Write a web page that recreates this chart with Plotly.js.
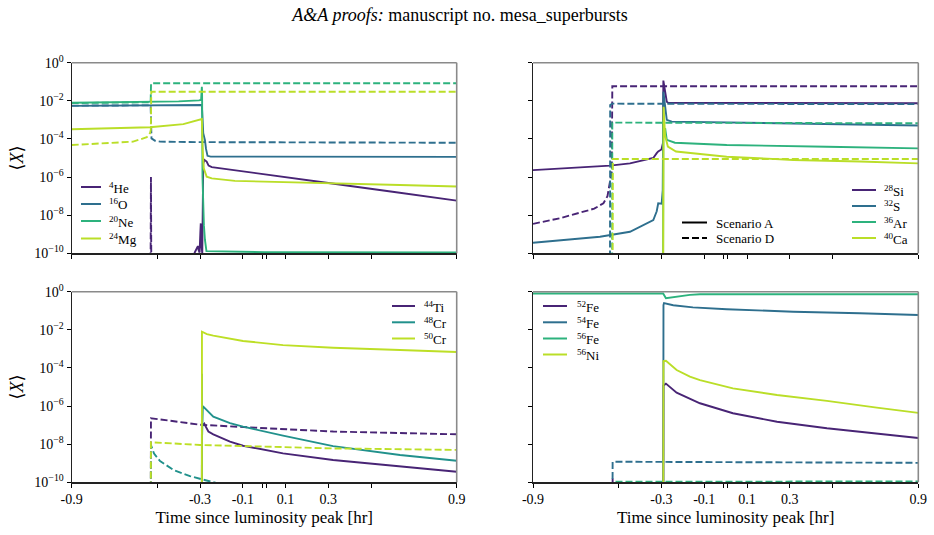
<!DOCTYPE html>
<html>
<head>
<meta charset="utf-8">
<script src="https://cdn.plot.ly/plotly-3.0.1.min.js"></script>
<style>
  html, body { margin: 0; padding: 0; background: #fff; }
  #chart { width: 934px; height: 535px; }
</style>
</head>
<body>
<div id="chart"></div>
<script>
// ---------------------------------------------------------------
// Mean mass fractions <X> versus time since the luminosity peak.
// Suffix _A = Scenario A (solid), _D = Scenario D (dashed).
// Values at 1e-13 lie below the plotted range (effectively zero).
// ---------------------------------------------------------------

// shared axis ticks
const timeTicks = [-0.9, -0.3, -0.1, 0.1, 0.3, 0.9];
const timeTickText = ['-0.9', '-0.3', '-0.1', '0.1', '0.3', '0.9'];
const timeMinorTicks = [-0.5, -0.01, 0.01, 0.5];
const xTicks = [1e-10, 1e-8, 1e-6, 1e-4, 1e-2, 1];
const xTickText = ['10<sup>−10</sup>', '10<sup>−8</sup>', '10<sup>−6</sup>', '10<sup>−4</sup>', '10<sup>−2</sup>', '10<sup>0</sup>'];

// ---- panel 1: light elements ----
const lightLabels = ['<sup>4</sup>He', '<sup>16</sup>O', '<sup>20</sup>Ne', '<sup>24</sup>Mg'];

const he4_A_t = [-0.9, -0.34, -0.325, -0.316, -0.31, -0.306, -0.302, -0.2985, -0.2965, -0.2945, -0.292, -0.2895, -0.285, -0.28, -0.269, -0.26, -0.245, -0.137, 0, 0.3, 0.6, 0.9];
const he4_A_X = [1e-13, 1e-12, 1.1e-10, 1.6e-10, 2.4e-10, 1.4e-10, 1.1e-10, 1.2e-9, 3.7e-9, 4e-10, 1.2e-10, 1e-10, 5e-6, 8e-6, 6.5e-6, 4e-6, 3.3e-6, 2.3e-6, 1.45e-6, 4.9e-7, 1.7e-7, 5.8e-8];
const he4_D_t = [-0.9, -0.532, -0.5295, -0.527, 0.9];
const he4_D_X = [1e-13, 1e-13, 1e-6, 1e-13, 1e-13];

const o16_A_t = [-0.9, -0.6, -0.3, -0.2915, -0.285, -0.277, -0.272, -0.265, -0.25, 0.9];
const o16_A_X = [5.4e-3, 5.6e-3, 6.0e-3, 6.0e-3, 2e-4, 8.7e-5, 3e-5, 1.3e-5, 1.18e-5, 1.15e-5];
const o16_D_t = [-0.9, -0.6, -0.531, -0.527, -0.51, -0.487, -0.3, 0.9];
const o16_D_X = [5.6e-3, 5.7e-3, 5.8e-3, 1.07e-4, 8e-5, 7.2e-5, 6.8e-5, 6.3e-5];

const ne20_A_t = [-0.9, -0.6, -0.4, -0.305, -0.295, -0.2915, -0.2905, -0.2885, -0.286, -0.282, -0.277, -0.27, 0, 0.9];
const ne20_A_X = [7.9e-3, 8.5e-3, 9.3e-3, 1.05e-2, 1.1e-2, 0.055, 0.03, 1e-6, 1e-8, 3e-9, 5e-10, 1.3e-10, 1.15e-10, 1.1e-10];
const ne20_D_t = [-0.9, -0.6, -0.531, -0.529, 0.9];
const ne20_D_X = [7.6e-3, 8.0e-3, 8.4e-3, 0.083, 0.083];

const mg24_A_t = [-0.9, -0.534, -0.378, -0.331, -0.3, -0.2915, -0.288, -0.283, -0.269, -0.245, -0.137, 0.167, 0.635, 0.9];
const mg24_A_X = [3.2e-4, 4.1e-4, 6.0e-4, 8.1e-4, 1.0e-3, 1.1e-3, 3e-5, 3e-6, 1.05e-6, 8.5e-7, 6.3e-7, 5e-7, 3.8e-7, 3.2e-7];
const mg24_D_t = [-0.9, -0.613, -0.549, -0.534, -0.530, -0.528, 0.9];
const mg24_D_X = [4.8e-5, 7.2e-5, 1.23e-4, 2.0e-4, 3e-4, 0.030, 0.030];

// ---- panel 2: intermediate-mass elements ----
const imeLabels = ['<sup>28</sup>Si', '<sup>32</sup>S', '<sup>36</sup>Ar', '<sup>40</sup>Ca'];

const si28_A_t = [-0.9, -0.54, -0.447, -0.338, -0.322, -0.315, -0.3, -0.293, -0.291, -0.286, -0.275, -0.268, 0.9];
const si28_A_X = [2.3e-6, 4e-6, 5.2e-6, 1.0e-5, 1.8e-5, 2.2e-5, 2.8e-5, 6e-5, 0.115, 0.05, 9e-3, 7.8e-3, 7.4e-3];
const si28_D_t = [-0.9, -0.774, -0.614, -0.571, -0.552, -0.540, -0.532, -0.5295, 0.9];
const si28_D_X = [3.5e-9, 6.9e-9, 2.2e-8, 4.2e-8, 1e-7, 4.7e-7, 2e-6, 0.058, 0.058];

const s32_A_t = [-0.9, -0.587, -0.447, -0.338, -0.322, -0.315, -0.299, -0.294, -0.291, -0.286, -0.275, -0.252, 0.005, 0.9];
const s32_A_X = [3.6e-10, 7.4e-10, 1.35e-9, 5.6e-9, 1.6e-8, 4.2e-8, 4e-8, 2e-7, 0.03, 0.01, 1e-3, 8.1e-4, 7.3e-4, 5.1e-4];
const s32_D_t = [-0.9, -0.5405, -0.5395, -0.5295, 0.9];
const s32_D_X = [1e-13, 1e-13, 6e-3, 7.1e-3, 6.7e-3];

const ar36_A_t = [-0.9, -0.2925, -0.291, -0.287, -0.282, -0.275, -0.237, 0.005, 0.473, 0.9];
const ar36_A_X = [1e-13, 1e-13, 1e-3, 3e-4, 3.2e-4, 9e-5, 6.3e-5, 4.8e-5, 3.9e-5, 3.2e-5];
const ar36_D_t = [-0.9, -0.5305, -0.5295, 0.9];
const ar36_D_X = [1e-13, 1e-13, 7.2e-4, 6.6e-4];

const ca40_A_t = [-0.9, -0.2925, -0.290, -0.283, -0.27, -0.232, 0.005, 0.316, 0.627, 0.9];
const ca40_A_X = [1e-13, 1e-13, 4.9e-3, 1.5e-4, 4e-5, 2.2e-5, 1.17e-5, 7.9e-6, 6.5e-6, 5.2e-6];
const ca40_D_t = [-0.9, -0.5285, -0.527, 0.9];
const ca40_D_X = [1e-13, 1e-13, 8.9e-6, 8.9e-6];

// ---- panel 3: Ti and Cr ----
const tiCrLabels = ['<sup>44</sup>Ti', '<sup>48</sup>Cr', '<sup>50</sup>Cr'];

const ti44_A_t = [-0.9, -0.2915, -0.291, -0.284, -0.280, -0.277, -0.261, -0.238, -0.160, -0.099, 0.088, 0.322, 0.635, 0.9];
const ti44_A_X = [1e-13, 1e-13, 9e-8, 1.1e-7, 1.2e-7, 1e-7, 4.6e-8, 3.3e-8, 1.35e-8, 8.3e-9, 3.3e-9, 1.48e-9, 6.6e-10, 3.6e-10];
const ti44_D_t = [-0.9, -0.5305, -0.5295, -0.3, 0.012, 0.323, 0.9];
const ti44_D_X = [1e-13, 1e-13, 2.3e-7, 1.05e-7, 6.8e-8, 4.6e-8, 3.3e-8];

const cr48_A_t = [-0.9, -0.2915, -0.291, -0.2903, -0.287, -0.238, -0.160, -0.099, 0.088, 0.322, 0.635, 0.9];
const cr48_A_X = [1e-13, 1e-13, 5e-5, 3e-8, 1e-6, 2.75e-7, 1.26e-7, 8.3e-8, 2.8e-8, 7.9e-9, 2.7e-9, 1.35e-9];
const cr48_D_t = [-0.9, -0.5305, -0.5295, -0.515, -0.487, -0.425, -0.347, -0.3, -0.222, -0.1, 0.9];
const cr48_D_X = [1e-13, 1e-13, 9e-9, 3.2e-9, 1.3e-9, 4.5e-10, 2.1e-10, 1.5e-10, 9e-11, 4e-11, 1e-12];

const cr50_A_t = [-0.9, -0.2915, -0.291, -0.268, -0.238, -0.16, -0.099, 0.088, 0.322, 0.635, 0.9];
const cr50_A_X = [1e-13, 1e-13, 8e-3, 6.0e-3, 5.0e-3, 3.3e-3, 2.6e-3, 1.58e-3, 1.15e-3, 8.7e-4, 6.9e-4];
const cr50_D_t = [-0.9, -0.5305, -0.5295, -0.3, 0.323, 0.9];
const cr50_D_X = [1e-13, 1e-13, 1.26e-8, 9.1e-9, 6e-9, 5e-9];

// ---- panel 4: iron group ----
const ironLabels = ['<sup>52</sup>Fe', '<sup>54</sup>Fe', '<sup>56</sup>Fe', '<sup>56</sup>Ni'];

const fe52_A_t = [-0.9, -0.2915, -0.2905, -0.281, -0.279, -0.229, -0.12, 0.034, 0.24, 0.473, 0.706, 0.9];
const fe52_A_X = [1e-13, 1e-13, 1.2e-5, 1.5e-5, 1.5e-5, 5e-6, 1.4e-6, 4.2e-7, 1.5e-7, 6.8e-8, 3.5e-8, 2.1e-8];
const fe52_D_t = [-0.9, -0.5295, -0.528, -0.5265, 0.9];
const fe52_D_X = [1e-13, 1e-13, 1.6e-10, 1e-13, 1e-13];

const fe54_A_t = [-0.9, -0.2915, -0.2905, -0.288, -0.245, -0.153, 0.005, 0.316, 0.627, 0.9];
const fe54_A_X = [1e-13, 1e-13, 0.2, 0.25, 0.195, 0.15, 0.12, 0.089, 0.074, 0.06];
const fe54_D_t = [-0.9, -0.529, -0.528, 0.9];
const fe54_D_X = [1e-13, 1e-13, 1.2e-9, 1.05e-9];

const fe56_A_t = [-0.9, -0.292, -0.279, -0.229, -0.167, -0.12, 0.3, 0.9];
const fe56_A_X = [0.81, 0.81, 0.45, 0.55, 0.68, 0.74, 0.75, 0.73];
const fe56_D_t = [-0.9, -0.5285, -0.527, 0.9];
const fe56_D_X = [1e-13, 1e-13, 1.08e-10, 1.1e-10];

const ni56_A_t = [-0.9, -0.2915, -0.2905, -0.279, -0.229, -0.167, -0.12, 0.034, 0.24, 0.473, 0.706, 0.9];
const ni56_A_X = [1e-13, 1e-13, 2.3e-4, 2.4e-4, 7.8e-5, 3.5e-5, 2.3e-5, 8.5e-6, 3.8e-6, 1.86e-6, 8.3e-7, 4.4e-7];

const scenarioLabels = ['Scenario A', 'Scenario D'];

// ---------------------------------------------------------------
// styling
// ---------------------------------------------------------------
const SERIF = 'Liberation Serif, DejaVu Serif, serif';
const W = 934, H = 535;
const viridis4 = ['#482475', '#2e6f8e', '#2db27d', '#bade28'];
const viridis3 = ['#482475', '#21918c', '#bddf26'];
const DASH = '7px,3px';
const LW = 1.9;

// panel boxes in pixels: [left, right, top, bottom]
const boxes = {
  1: [71.7, 456.7, 62.7, 253.3],
  2: [533.0, 918.3, 62.7, 253.3],
  3: [71.7, 456.7, 291.7, 482.3],
  4: [533.0, 918.3, 291.7, 482.3]
};
const px = v => v / W;
const py = v => 1 - v / H;

const traces = [];
function addSeries(panel, t, X, color, dashed) {
  const sfx = panel === 1 ? '' : String(panel);
  traces.push({
    type: 'scatter', mode: 'lines',
    x: t, y: X,
    xaxis: 'x' + sfx, yaxis: 'y' + sfx,
    line: { color: color, width: LW, dash: dashed ? DASH : 'solid' },
    showlegend: false, hoverinfo: 'x+y'
  });
}

// panel 1
addSeries(1, he4_A_t, he4_A_X, viridis4[0], false);
addSeries(1, he4_D_t, he4_D_X, viridis4[0], true);
addSeries(1, o16_A_t, o16_A_X, viridis4[1], false);
addSeries(1, o16_D_t, o16_D_X, viridis4[1], true);
addSeries(1, ne20_A_t, ne20_A_X, viridis4[2], false);
addSeries(1, ne20_D_t, ne20_D_X, viridis4[2], true);
addSeries(1, mg24_A_t, mg24_A_X, viridis4[3], false);
addSeries(1, mg24_D_t, mg24_D_X, viridis4[3], true);
// panel 2
addSeries(2, si28_A_t, si28_A_X, viridis4[0], false);
addSeries(2, si28_D_t, si28_D_X, viridis4[0], true);
addSeries(2, s32_A_t, s32_A_X, viridis4[1], false);
addSeries(2, s32_D_t, s32_D_X, viridis4[1], true);
addSeries(2, ar36_A_t, ar36_A_X, viridis4[2], false);
addSeries(2, ar36_D_t, ar36_D_X, viridis4[2], true);
addSeries(2, ca40_A_t, ca40_A_X, viridis4[3], false);
addSeries(2, ca40_D_t, ca40_D_X, viridis4[3], true);
// panel 3
addSeries(3, ti44_A_t, ti44_A_X, viridis3[0], false);
addSeries(3, ti44_D_t, ti44_D_X, viridis3[0], true);
addSeries(3, cr48_A_t, cr48_A_X, viridis3[1], false);
addSeries(3, cr48_D_t, cr48_D_X, viridis3[1], true);
addSeries(3, cr50_A_t, cr50_A_X, viridis3[2], false);
addSeries(3, cr50_D_t, cr50_D_X, viridis3[2], true);
// panel 4
addSeries(4, fe52_A_t, fe52_A_X, viridis4[0], false);
addSeries(4, fe52_D_t, fe52_D_X, viridis4[0], true);
addSeries(4, fe54_A_t, fe54_A_X, viridis4[1], false);
addSeries(4, fe54_D_t, fe54_D_X, viridis4[1], true);
addSeries(4, fe56_A_t, fe56_A_X, viridis4[2], false);
addSeries(4, fe56_D_t, fe56_D_X, viridis4[2], true);
addSeries(4, ni56_A_t, ni56_A_X, viridis4[3], false);

// axes
const tickFont = { family: SERIF, size: 14, color: '#000' };
function timeAxis(panel, showLabels) {
  const b = boxes[panel];
  const ax = {
    domain: [px(b[0]), px(b[1])],
    anchor: panel === 1 ? 'y' : 'y' + panel,
    range: [-0.9, 0.9], fixedrange: true,
    tickmode: 'array', tickvals: timeTicks, ticktext: timeTickText,
    minor: { tickmode: 'array', tickvals: timeMinorTicks, ticks: 'outside', ticklen: 4, tickwidth: 1, tickcolor: '#000', showgrid: false },
    showticklabels: showLabels,
    ticks: 'outside', ticklen: 4, tickwidth: 1, tickcolor: '#000',
    showline: true, linecolor: '#222', linewidth: 1.2,
    showgrid: false, zeroline: false,
    tickfont: tickFont, automargin: false
  };
  if (showLabels) {
    ax.title = { text: 'Time since luminosity peak [hr]', font: { family: SERIF, size: 17, color: '#000' }, standoff: 4 };
  }
  return ax;
}
function abundanceAxis(panel, showLabels) {
  const b = boxes[panel];
  const ax = {
    domain: [py(b[3]), py(b[2])],
    anchor: panel === 1 ? 'x' : 'x' + panel,
    type: 'log', range: [-10, 0], fixedrange: true,
    tickmode: 'array', tickvals: xTicks, ticktext: xTickText,
    showticklabels: showLabels,
    ticks: 'outside', ticklen: 4, tickwidth: 1, tickcolor: '#000',
    showline: true, linecolor: '#222', linewidth: 1.2,
    showgrid: false, zeroline: false,
    tickfont: tickFont, automargin: false
  };
  if (showLabels) {
    ax.title = { text: '⟨<i>X</i>⟩', font: { family: SERIF, size: 18, color: '#000' }, standoff: 6 };
  }
  return ax;
}

// top/right frame edges drawn in grey
const shapes = [];
[1, 2, 3, 4].forEach(p => {
  const xs = p === 1 ? 'x' : 'x' + p, ys = p === 1 ? 'y' : 'y' + p;
  shapes.push({ type: 'line', xref: xs + ' domain', yref: ys + ' domain', x0: 0, x1: 1, y0: 1, y1: 1, line: { color: '#8a8a8a', width: 1.6 } });
  shapes.push({ type: 'line', xref: xs + ' domain', yref: ys + ' domain', x0: 1, x1: 1, y0: 0, y1: 1, line: { color: '#8a8a8a', width: 1.6 } });
});

// legend blocks: sample line + label
const annotations = [];
const legendFont = { family: SERIF, size: 13, color: '#000' };
function legendBlock(labels, colors, dashes, lineX0, lineX1, textX, rowsY) {
  labels.forEach((lab, i) => {
    shapes.push({
      type: 'line', xref: 'paper', yref: 'paper',
      x0: px(lineX0), x1: px(lineX1), y0: py(rowsY[i]), y1: py(rowsY[i]),
      line: { color: colors[i], width: 2, dash: dashes[i] }
    });
    annotations.push({
      xref: 'paper', yref: 'paper', x: px(textX), y: py(rowsY[i] + 0.5),
      xanchor: 'left', yanchor: 'middle', showarrow: false,
      text: lab, font: legendFont
    });
  });
}
const solid4 = ['solid', 'solid', 'solid', 'solid'];
legendBlock(lightLabels, viridis4, solid4, 81, 101, 107, [187, 204, 221, 238.5]);
legendBlock(imeLabels, viridis4, solid4, 852, 876, 882, [190, 206, 222, 238]);
legendBlock(scenarioLabels, ['#000', '#000'], ['solid', DASH], 682, 707, 714, [222.5, 238]);
legendBlock(tiCrLabels, viridis3, solid4, 392, 415, 422, [306, 322.3, 338.5]);
legendBlock(ironLabels, viridis4, solid4, 543, 567, 575, [306, 322.3, 338.5, 354.5]);

const layout = {
  width: W, height: H,
  margin: { l: 0, r: 0, t: 0, b: 0 },
  paper_bgcolor: '#fff', plot_bgcolor: '#fff',
  font: { family: SERIF, color: '#000' },
  title: {
    text: '<i>A&amp;A proofs:</i> manuscript no. mesa_superbursts',
    font: { family: SERIF, size: 18, color: '#000' },
    x: px(460), xanchor: 'center', xref: 'paper',
    y: py(15), yanchor: 'middle', yref: 'paper'
  },
  showlegend: false,
  xaxis: timeAxis(1, false), yaxis: abundanceAxis(1, true),
  xaxis2: timeAxis(2, false), yaxis2: abundanceAxis(2, false),
  xaxis3: timeAxis(3, true), yaxis3: abundanceAxis(3, true),
  xaxis4: timeAxis(4, true), yaxis4: abundanceAxis(4, false),
  shapes: shapes,
  annotations: annotations
};

Plotly.newPlot('chart', traces, layout, { staticPlot: true, displayModeBar: false });
</script>
</body>
</html>
